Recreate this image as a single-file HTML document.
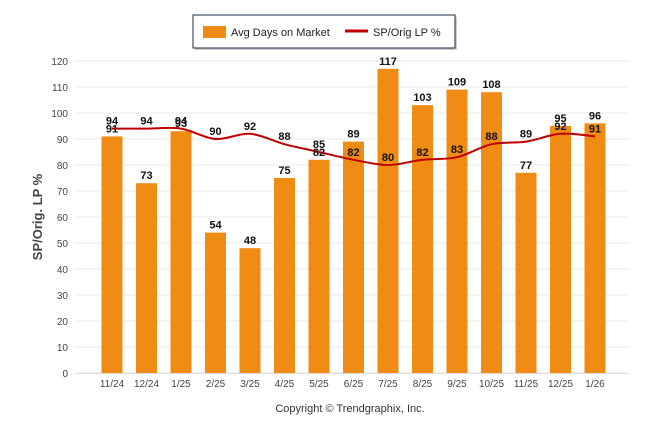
<!DOCTYPE html>
<html><head><meta charset="utf-8"><style>
body{margin:0;background:#fff;width:646px;height:434px;overflow:hidden;font-family:"Liberation Sans",sans-serif}
</style></head><body>
<svg id="c" width="646" height="434" xmlns="http://www.w3.org/2000/svg">
<g>
<rect x="195" y="17" width="262" height="33" fill="#999" opacity="0.5"/>
<rect x="193" y="15" width="262" height="33" fill="#fff" stroke="#1a2a4a" stroke-width="1"/>
<rect x="203" y="26" width="23" height="12" fill="#f08c14"/>
<text x="231" y="36" font-size="11" fill="#222">Avg Days on Market</text>
<line x1="345" y1="31" x2="368" y2="31" stroke="#c00000" stroke-width="3"/>
<text x="373" y="36" font-size="11" fill="#222">SP/Orig LP %</text>
</g>
<text transform="translate(42,217) rotate(-90)" text-anchor="middle" font-size="13" font-weight="bold" fill="#444">SP/Orig. LP %</text>
<text x="350" y="412" text-anchor="middle" font-size="11" fill="#333">Copyright © Trendgraphix, Inc.</text>
<g id="g"></g>
</svg>
<script>
const categories=["11/24","12/24","1/25","2/25","3/25","4/25","5/25","6/25","7/25","8/25","9/25","10/25","11/25","12/25","1/26"];
const daysOnMarket=[91,73,93,54,48,75,82,89,117,103,109,108,77,95,96];
const spOrigLp=[94,94,94,90,92,88,85,82,80,82,83,88,89,92,91];
const yTicks=[0,10,20,30,40,50,60,70,80,90,100,110,120];
const NS="http://www.w3.org/2000/svg",g=document.getElementById('g');
const y=v=>373-v*2.6, x=i=>112+i*34.5;
function el(t,a){const e=document.createElementNS(NS,t);for(const k in a)e.setAttribute(k,a[k]);g.appendChild(e);return e;}
yTicks.forEach(v=>{
 const l=el('line',{x1:75,x2:629,y1:y(v),y2:y(v),stroke:'#e8e8e8','stroke-width':1});
 
 
 const t=el('text',{x:68,y:y(v)+4,'text-anchor':'end','font-size':10,fill:'#444'});t.textContent=v;
 
 
});
const ax=el('line',{x1:75,x2:629,y1:373.5,y2:373.5,stroke:'#ddd'});


categories.forEach((c,i)=>{
 const b=el('rect',{x:x(i)-10.5,y:y(daysOnMarket[i]),width:21,height:daysOnMarket[i]*2.6,fill:'#f08c14'});
 
 
 const t=el('text',{x:x(i),y:387,'text-anchor':'middle','font-size':10,fill:'#444'});t.textContent=c;
 
 
});
const pts=spOrigLp.map((v,i)=>[x(i),y(v)]);
let d='M'+pts[0][0]+','+pts[0][1];
for(let i=0;i<pts.length-1;i++){
 const p0=pts[Math.max(0,i-1)],p1=pts[i],p2=pts[i+1],p3=pts[Math.min(pts.length-1,i+2)];
 const c1=[p1[0]+(p2[0]-p0[0])/6,p1[1]+(p2[1]-p0[1])/6],c2=[p2[0]-(p3[0]-p1[0])/6,p2[1]-(p3[1]-p1[1])/6];
 d+=`C${c1[0]},${c1[1]} ${c2[0]},${c2[1]} ${p2[0]},${p2[1]}`;
}
const p=el('path',{d:d,fill:'none',stroke:'#c00000','stroke-width':2,'stroke-linejoin':'round'});


categories.forEach((c,i)=>{
 const t=el('text',{x:x(i),y:y(daysOnMarket[i])-4,'text-anchor':'middle','font-size':11,'font-weight':'bold',fill:'#111'});t.textContent=daysOnMarket[i];
 
 
 const u=el('text',{x:x(i),y:y(spOrigLp[i])-4,'text-anchor':'middle','font-size':11,'font-weight':'bold',fill:'#111'});u.textContent=spOrigLp[i];
 
 
});
</script>
</body></html>
